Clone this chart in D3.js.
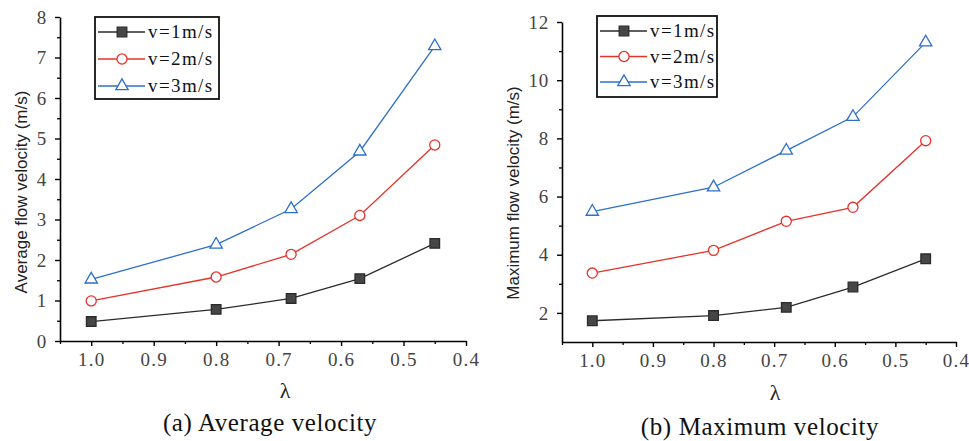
<!DOCTYPE html>
<html>
<head>
<meta charset="utf-8">
<script src="https://cdn.jsdelivr.net/npm/d3@7"></script>
<style>
  body { margin: 0; background: #fff; }
  svg { display: block; }
</style>
</head>
<body>
<svg id="chart" width="969" height="441"></svg>
<script>
// ---- data ----
const lambdaValues = [1.0, 0.8, 0.68, 0.57, 0.45];
const seriesNames = ["v=1m/s", "v=2m/s", "v=3m/s"];

const avgV1 = [0.48, 0.78, 1.05, 1.54, 2.41];
const avgV2 = [0.99, 1.58, 2.14, 3.10, 4.84];
const avgV3 = [1.52, 2.38, 3.26, 4.68, 7.28];

const maxV1 = [1.73, 1.91, 2.19, 2.89, 3.86];
const maxV2 = [3.37, 4.15, 5.15, 5.63, 7.92];
const maxV3 = [5.48, 6.32, 7.58, 8.74, 11.30];

const xTickValues = [1.0, 0.9, 0.8, 0.7, 0.6, 0.5, 0.4];
const xTickLabels = ["1.0", "0.9", "0.8", "0.7", "0.6", "0.5", "0.4"];
const avgYTicks = [0, 1, 2, 3, 4, 5, 6, 7, 8];
const maxYTicks = [2, 4, 6, 8, 10, 12];

const captions = ["(a) Average velocity", "(b) Maximum velocity"];
const yTitles = ["Average flow velocity (m/s)", "Maximum flow velocity (m/s)"];
const xTitle = "λ";

// ---- styles ----
const colors = ["#2b2b2b", "#e5332b", "#2d6fc9"];
const markerTypes = [d3.symbolSquare, d3.symbolCircle, d3.symbolTriangle];
const markerSizes = [92, 80, 66];
const markerFill = ["#464646", "#ffffff", "#ffffff"];
const markerStroke = ["#2b2b2b", "#e5332b", "#2d6fc9"];
const serif = "Liberation Serif, Times New Roman, DejaVu Serif, serif";
const sans = "Liberation Sans, Arial, DejaVu Sans, sans-serif";

const svg = d3.select("#chart");

function drawPanel(cfg) {
  const g = svg.append("g");
  const x = d3.scaleLinear().domain([1.05, 0.4]).range([cfg.left, cfg.right]);
  const y = d3.scaleLinear().domain(cfg.yDomain).range([cfg.bottom, cfg.top]);

  const xMinor = d3.range(0, 14).map(i => +(1.05 - i * 0.05).toFixed(2))
    .filter(v => v >= 0.4 && !xTickValues.some(t => Math.abs(t - v) < 1e-6));

  const xAxis = d3.axisBottom(x).tickValues(xTickValues)
    .tickFormat((d, i) => xTickLabels[i]).tickSize(5).tickPadding(7).tickSizeOuter(0);
  const gx = g.append("g").attr("transform", `translate(0,${cfg.bottom})`).call(xAxis);
  gx.selectAll("text").style("font-family", serif).style("font-size", "19px").attr("fill", "#444")
    .style("letter-spacing", "1.2px");
  gx.selectAll("line").attr("stroke", "#000").attr("stroke-width", 1.4);
  gx.select(".domain").attr("stroke", "#000").attr("stroke-width", 1.6);

  const xMin = d3.axisBottom(x).tickValues(xMinor).tickSize(3).tickFormat("").tickSizeOuter(0);
  const gxm = g.append("g").attr("transform", `translate(0,${cfg.bottom})`).call(xMin);
  gxm.select(".domain").remove();
  gxm.selectAll("line").attr("stroke", "#000").attr("stroke-width", 1.3);

  const yAxis = d3.axisLeft(y).tickValues(cfg.yTicks).tickSize(5).tickPadding(8).tickSizeOuter(0);
  const gy = g.append("g").attr("transform", `translate(${cfg.left},0)`).call(yAxis);
  gy.selectAll("text").style("font-family", serif).style("font-size", "19px").attr("fill", "#444")
    .style("letter-spacing", "0.8px");
  gy.selectAll("line").attr("stroke", "#000").attr("stroke-width", 1.4);
  gy.select(".domain").attr("stroke", "#000").attr("stroke-width", 1.6);

  const yMin = d3.axisLeft(y).tickValues(cfg.yMinor).tickSize(3).tickFormat("").tickSizeOuter(0);
  const gym = g.append("g").attr("transform", `translate(${cfg.left},0)`).call(yMin);
  gym.select(".domain").remove();
  gym.selectAll("line").attr("stroke", "#000").attr("stroke-width", 1.3);

  // series
  const line = d3.line().x((d, i) => x(lambdaValues[i])).y(d => y(d));
  cfg.series.forEach((vals, s) => {
    g.append("path").datum(vals).attr("d", line)
      .attr("fill", "none").attr("stroke", colors[s]).attr("stroke-width", 1.3);
    g.selectAll(null).data(vals).enter().append("path")
      .attr("d", d3.symbol().type(markerTypes[s]).size(markerSizes[s]))
      .attr("transform", (d, i) => `translate(${x(lambdaValues[i])},${y(d)})`)
      .attr("fill", markerFill[s]).attr("stroke", markerStroke[s]).attr("stroke-width", 1.3);
  });

  // legend
  const L = cfg.legend;
  g.append("rect").attr("x", L.x).attr("y", L.y).attr("width", L.w).attr("height", L.h)
    .attr("fill", "#fff").attr("stroke", "#111").attr("stroke-width", 1.8);
  seriesNames.forEach((name, s) => {
    const yy = L.y + L.first + s * L.step;
    g.append("line").attr("x1", L.x + 3).attr("x2", L.x + 50).attr("y1", yy).attr("y2", yy)
      .attr("stroke", colors[s]).attr("stroke-width", 1.3);
    g.append("path").attr("d", d3.symbol().type(markerTypes[s]).size(markerSizes[s]))
      .attr("transform", `translate(${L.x + 27},${yy})`)
      .attr("fill", markerFill[s]).attr("stroke", markerStroke[s]).attr("stroke-width", 1.3);
    g.append("text").attr("x", L.x + 53).attr("y", yy + 6)
      .style("font-family", serif).style("font-size", "19px").attr("fill", "#111")
      .style("letter-spacing", "1.4px")
      .text(name);
  });

  // titles
  g.append("text").attr("transform", `translate(${cfg.yTitleX},${cfg.yTitleY}) rotate(-90)`)
    .attr("text-anchor", "middle").style("font-family", sans).style("font-size", "17px").attr("fill", "#222")
    .text(cfg.yTitle);
  g.append("text").attr("x", cfg.lambdaX).attr("y", cfg.lambdaY).attr("text-anchor", "middle")
    .style("font-family", serif).style("font-size", "22px").attr("fill", "#222").text(xTitle);
  g.append("text").attr("x", cfg.capX).attr("y", cfg.capY).attr("text-anchor", "middle")
    .style("font-family", serif).style("font-size", "25px").style("letter-spacing", "0.6px")
    .attr("fill", "#111").text(cfg.caption);
}

drawPanel({
  left: 60, right: 466, top: 17, bottom: 341,
  yDomain: [0, 8], yTicks: avgYTicks, yMinor: d3.range(0.5, 8, 1),
  series: [avgV1, avgV2, avgV3],
  legend: { x: 95, y: 17, w: 124, h: 82, first: 15, step: 27 },
  yTitle: yTitles[0], yTitleX: 27, yTitleY: 192,
  lambdaX: 285, lambdaY: 398,
  caption: captions[0], capX: 270, capY: 431
});

drawPanel({
  left: 562, right: 956, top: 22, bottom: 342,
  yDomain: [1, 12], yTicks: maxYTicks, yMinor: [3, 5, 7, 9, 11],
  series: [maxV1, maxV2, maxV3],
  legend: { x: 597, y: 16, w: 120, h: 81, first: 15, step: 25.5 },
  yTitle: yTitles[1], yTitleX: 519, yTitleY: 193,
  lambdaX: 775, lambdaY: 400,
  caption: captions[1], capX: 760, capY: 435
});
</script>
</body>
</html>
